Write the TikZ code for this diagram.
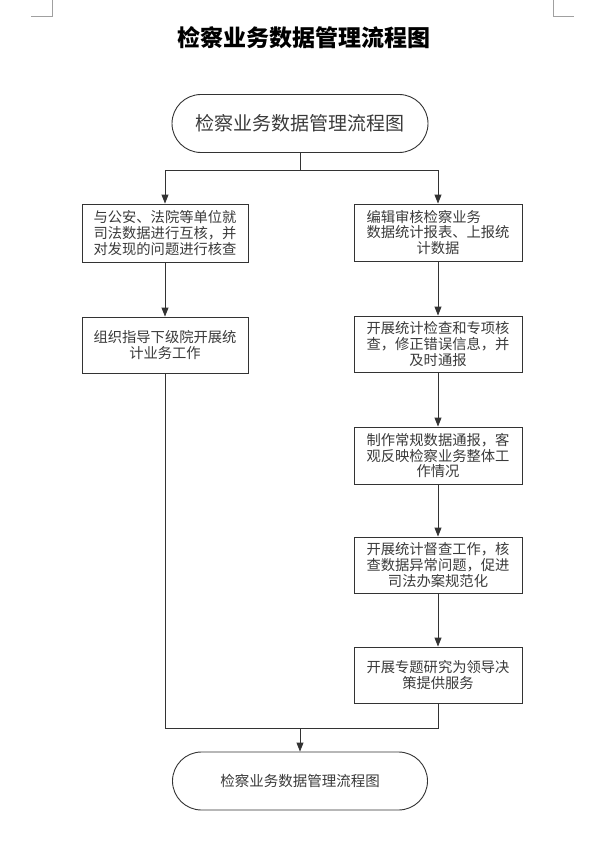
\documentclass[tikz,border=0pt]{standalone}
\usepackage{fontspec}
\setmainfont{Noto Sans CJK SC}
\newfontfamily\cjk{Noto Sans CJK SC}
\usetikzlibrary{arrows.meta}
\definecolor{linec}{HTML}{333333}
\definecolor{textc}{HTML}{3A3A3A}
\definecolor{markc}{HTML}{A0A0A0}
\tikzset{
  boxnode/.style={draw=linec, line width=0.9pt, minimum width=#1, inner sep=2pt,
    align=center, text=textc, font=\cjk\fontsize{14.3}{15.8}\selectfont},
  boxnode/.default=166pt,
  termnode/.style={draw=linec, line width=0.9pt, rounded corners=29pt,
    minimum width=256pt, minimum height=58pt, text=textc},
  conn/.style={draw=linec, line width=0.9pt},
  arr/.style={conn, -{Triangle[length=9pt,width=7pt]}},
}
\begin{document}
\begin{tikzpicture}[x=1pt,y=-1pt]
\useasboundingbox (0,0) rectangle (592,845);
% corner marks
\draw[markc, line width=0.8pt] (31,16) -- (52,16) -- (52,0);
\draw[markc, line width=0.8pt] (574,16) -- (553,16) -- (553,0);
% title
\node[font=\cjk\bfseries\fontsize{23}{26}\selectfont, text=black] (title) at (304,38) {检察业务数据管理流程图};
% start / end
\node[termnode, font=\cjk\fontsize{19}{21}\selectfont] (start) at (300,123.5) {检察业务数据管理流程图};
\node[termnode, minimum width=255pt, font=\cjk\fontsize{14.5}{16}\selectfont] (stop) at (300,781) {检察业务数据管理流程图};
% left column
\node[boxnode, minimum height=58pt] (L1) at (165,233) {与公安、法院等单位就\\司法数据进行互核，并\\对发现的问题进行核查};
\node[boxnode, minimum height=56pt] (L2) at (165,345) {组织指导下级院开展统\\计业务工作};
% right column
\node[boxnode=168pt, minimum height=57pt] (R1) at (438,232.5) {\makebox[10em][l]{编辑审核检察业务}\\数据统计报表、上报统\\计数据};
\node[boxnode=168pt, minimum height=56pt] (R2) at (438,344) {开展统计检查和专项核\\查，修正错误信息，并\\及时通报};
\node[boxnode=168pt, minimum height=57pt] (R3) at (438,455.5) {制作常规数据通报，客\\观反映检察业务整体工\\作情况};
\node[boxnode=168pt, minimum height=56pt] (R4) at (438,565) {开展统计督查工作，核\\查数据异常问题，促进\\司法办案规范化};
\node[boxnode=168pt, minimum height=56pt] (R5) at (438,675) {开展专题研究为领导决\\策提供服务};
% connectors
\coordinate (sp) at (300,170);
\coordinate (jn) at (300,728);
\draw[conn] (start.south) -- (sp);
\draw[arr] (sp) -| (L1.north);
\draw[arr] (sp) -| (R1.north);
\draw[arr] (L1) -- (L2);
\draw[arr] (R1) -- (R2);
\draw[arr] (R2) -- (R3);
\draw[arr] (R3) -- (R4);
\draw[arr] (R4) -- (R5);
\draw[conn] (L2.south) |- (jn);
\draw[conn] (R5.south) |- (jn);
\draw[arr] (jn) -- (stop.north);
\end{tikzpicture}
\end{document}
